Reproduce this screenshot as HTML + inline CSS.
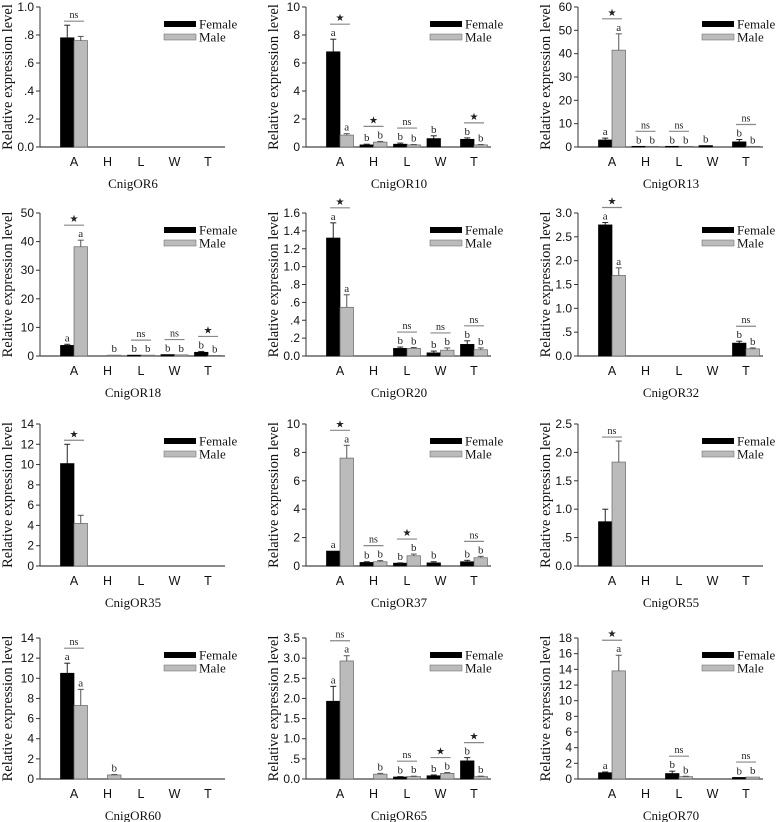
<!DOCTYPE html>
<html><head><meta charset="utf-8"><style>
html,body{margin:0;padding:0;background:#fff;}
svg{display:block;}
</style></head><body>
<svg id="chart" width="778" height="822" viewBox="0 0 778 822" xmlns="http://www.w3.org/2000/svg"></svg>
<script>
const categories = ["A","H","L","W","T"];
const genes = ["CnigOR6","CnigOR10","CnigOR13","CnigOR18","CnigOR20","CnigOR32","CnigOR35","CnigOR37","CnigOR55","CnigOR60","CnigOR65","CnigOR70"];
const yMax = [1,10,60,50,1.6,3,14,10,2.5,14,3.5,18];
const tickLabels = [
 ["0.0",".2",".4",".6",".8","1.0"],
 ["0","2","4","6","8","10"],
 ["0","10","20","30","40","50","60"],
 ["0","10","20","30","40","50"],
 ["0.0",".2",".4",".6",".8","1.0","1.2","1.4","1.6"],
 ["0.0",".5","1.0","1.5","2.0","2.5","3.0"],
 ["0","2","4","6","8","10","12","14"],
 ["0","2","4","6","8","10"],
 ["0.0",".5","1.0","1.5","2.0","2.5"],
 ["0","2","4","6","8","10","12","14"],
 ["0.0",".5","1.0","1.5","2.0","2.5","3.0","3.5"],
 ["0","2","4","6","8","10","12","14","16","18"]
];
const female = [
 [0.78,0,0,0,0],[6.8,0.15,0.2,0.6,0.55],[3,0.3,0.3,0.6,2.2],[3.7,0,0.3,0.5,1.3],
 [1.32,0,0.085,0.035,0.13],[2.75,0,0,0,0.27],[10.1,0,0,0,0],[1.05,0.25,0.2,0.22,0.3],
 [0.78,0,0,0,0],[10.5,0,0,0,0],[1.93,0,0.05,0.08,0.45],[0.8,0,0.7,0,0.2]
];
const male = [
 [0.76,0,0,0,0],[0.85,0.35,0.15,0,0.15],[41.5,0.3,0.3,0,0.3],[38.2,0.3,0.3,0.4,0.2],
 [0.545,0,0.085,0.065,0.07],[1.69,0,0,0,0.15],[4.2,0,0,0,0],[7.6,0.3,0.72,0,0.58],
 [1.83,0,0,0,0],[7.3,0.4,0,0,0],[2.93,0.12,0.06,0.14,0.06],[13.8,0,0.3,0,0.25]
];
const femaleErr = [
 [0.09,0,0,0,0],[0.9,0.05,0.08,0.2,0.1],[0.8,0,0,0,1],[0.4,0,0,0,0.3],
 [0.17,0,0.015,0.02,0.04],[0.05,0,0,0,0.04],[1.9,0,0,0,0],[0,0.05,0.02,0.08,0.1],
 [0.22,0,0,0,0],[1,0,0,0,0],[0.37,0,0.01,0.02,0.08],[0.1,0,0.3,0,0]
];
const maleErr = [
 [0.03,0,0,0,0],[0.1,0.05,0.03,0,0.03],[7,0,0,0,0],[2.3,0,0,0,0],
 [0.14,0,0.01,0.025,0.02],[0.16,0,0,0,0.02],[0.8,0,0,0,0],[0.9,0.08,0.12,0,0.1],
 [0.37,0,0,0,0],[1.6,0.05,0,0,0],[0.13,0.02,0.01,0.02,0.01],[2,0,0.05,0,0]
];
const femaleLetters = [
 ["","","","",""],["a","b","b","b","b"],["a","b","b","b","b"],["a","","b","b","b"],
 ["a","","b","b","b"],["a","","","","b"],["","","","",""],["a","b","b","b","b"],
 ["","","","",""],["a","","","",""],["a","","b","b","b"],["a","","b","","b"]
];
const maleLetters = [
 ["","","","",""],["a","b","b","","b"],["a","b","b","","b"],["a","b","b","b","b"],
 ["a","","b","b","b"],["a","","","","b"],["","","","",""],["a","b","b","","b"],
 ["","","","",""],["a","b","","",""],["a","b","b","b","b"],["a","","b","","b"]
];
const significance = [
 ["ns","","","",""],["★","★","ns","","★"],["★","ns","ns","","ns"],["★","","ns","ns","★"],
 ["★","","ns","ns","ns"],["★","","","","ns"],["★","","","",""],["★","ns","★","","ns"],
 ["ns","","","",""],["ns","","","",""],["ns","","ns","★","★"],["★","","ns","","ns"]
];

const NS = "http://www.w3.org/2000/svg";
const svg = document.getElementById("chart");
const SERIF = '"Liberation Serif", serif';
const SANS = '"Liberation Sans", sans-serif';
const colX = [40,306,578];
const rowY = [[7,147],[213,356],[424,566],[638,779]];
const axisLen = 185, barW = 13.5;
function mk(tag, attrs, parent){ const e=document.createElementNS(NS,tag); for(const k in attrs) e.setAttribute(k,attrs[k]); (parent||svg).appendChild(e); return e; }
function txt(s, attrs, parent){ const e=mk("text",attrs,parent); e.textContent=s; return e; }

genes.forEach((g, p) => {
  const ax = colX[p%3], top = rowY[Math.floor(p/3)][0], bot = rowY[Math.floor(p/3)][1];
  const yS = v => bot - v / yMax[p] * (bot - top);
  const xC = i => ax + 34 + 33.5 * i;
  const grp = mk("g", {});
  
  
  const yl = mk("line",{x1:ax,y1:top,x2:ax,y2:bot,stroke:"#333","stroke-width":1},grp);
  
  
  const xl = mk("line",{x1:ax,y1:bot,x2:ax+axisLen,y2:bot,stroke:"#444","stroke-width":1.2},grp);
  
  
  const n = tickLabels[p].length;
  tickLabels[p].forEach((lab, k) => {
    const v = yMax[p] * k / (n - 1);
    const y = yS(v);
    mk("line",{x1:ax-4,y1:y,x2:ax,y2:y,stroke:"#333","stroke-width":1},grp);
    const t = txt(lab,{x:ax-6,y:y+4,"text-anchor":"end","font-family":SANS,"font-size":12,fill:"#111"},grp);
    
    
  });
  const yt = txt("Relative expression level",{x:0,y:0,transform:`translate(${ax-28},${(top+bot)/2}) rotate(-90)`,"text-anchor":"middle","font-family":SERIF,"font-size":14.5,fill:"#111"},grp);
  
  
  categories.forEach((c, i) => {
    const xc = xC(i);
    const t = txt(c,{x:xc,y:bot+19,"text-anchor":"middle","font-family":SANS,"font-size":12.5,fill:"#111"},grp);
    
    
    const fv = female[p][i], mv = male[p][i];
    let topMost = bot;
    [[fv,femaleErr[p][i],femaleLetters[p][i],xc-barW,"#000","#000"],[mv,maleErr[p][i],maleLetters[p][i],xc,"#bbb","#666"]].forEach((s, si) => {
      const [v,e,l,x0,fill,stroke] = s;
      if (v > 0) {
        const y = yS(v);
        const b = mk("rect",{x:x0,y:y,width:barW,height:bot-y,fill:fill,stroke:stroke,"stroke-width":0.7},grp);
        
        
        let ty = y;
        if (e > 0) {
          const ye = yS(v+e);
          mk("line",{x1:x0+barW/2,y1:y,x2:x0+barW/2,y2:ye,stroke:stroke==="#000"?"#222":"#555","stroke-width":1},grp);
          mk("line",{x1:x0+barW/2-3,y1:ye,x2:x0+barW/2+3,y2:ye,stroke:stroke==="#000"?"#222":"#555","stroke-width":1},grp);
          ty = ye;
        }
        if (l) {
          const lt = txt(l,{x:x0+barW/2,y:ty-3,"text-anchor":"middle","font-family":SERIF,"font-size":11,fill:"#222"},grp);
          
          
          ty -= 11;
        }
        topMost = Math.min(topMost, ty);
      }
    });
    const sg = significance[p][i];
    if (sg) {
      const ly = topMost - 4;
      mk("line",{x1:xc-10,y1:ly,x2:xc+10,y2:ly,stroke:"#888","stroke-width":1.2},grp);
      const st = txt(sg,{x:xc,y:ly-3,"text-anchor":"middle","font-family":'"Liberation Serif", "DejaVu Sans", serif',"font-size":10,fill:"#222"},grp);
      
      
    }
  });
  const lx = ax + 124, ly = top + 17;
  const lf = mk("rect",{x:lx,y:ly-3,width:32,height:6,fill:"#000"},grp);
  
  
  const lft = txt("Female",{x:lx+35,y:ly+4.5,"font-family":SERIF,"font-size":13,fill:"#111"},grp);
  
  
  const lm = mk("rect",{x:lx,y:ly+10,width:32,height:6,fill:"#bbb",stroke:"#777","stroke-width":0.6},grp);
  
  
  const lmt = txt("Male",{x:lx+35,y:ly+17.5,"font-family":SERIF,"font-size":13,fill:"#111"},grp);
  
  
  const tt = txt(g,{x:ax+93,y:bot+41,"text-anchor":"middle","font-family":SERIF,"font-size":13,fill:"#111"},grp);
  
  
});
</script>
</body></html>
